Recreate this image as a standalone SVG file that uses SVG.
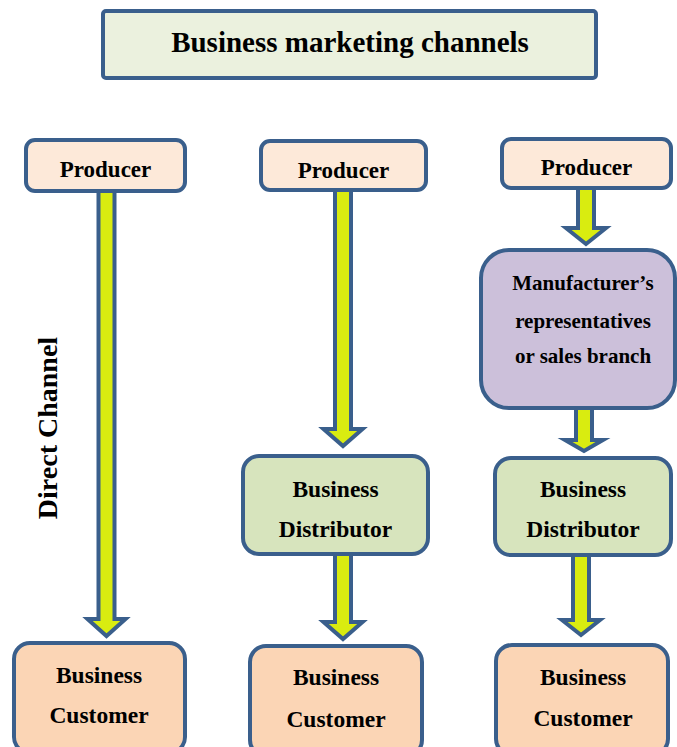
<svg xmlns="http://www.w3.org/2000/svg" width="677" height="747" viewBox="0 0 677 747">
<style>
.box{stroke:#3A5F8C;stroke-width:4}
.arr{fill:#D9EC10;stroke:#3A5F8C;stroke-width:4;stroke-linejoin:miter}
text{font-family:"Liberation Serif","Times New Roman",serif;font-weight:bold;fill:#000;text-anchor:middle}
.t{font-size:23.5px}
.p{font-size:23px}
.m{font-size:21px}
</style>
<rect width="677" height="747" fill="#fff"/>
<g id="connectors">
<polygon class="arr" points="98.5,185 114.5,185 114.5,619 125.5,619 106.5,636 87.5,619 98.5,619"/>
<polygon class="arr" points="335,185 351,185 351,429 362.5,429 343,446 323.5,429 335,429"/>
<polygon class="arr" points="335,550 351,550 351,622 362.5,622 343,639 323.5,622 335,622"/>
<polygon class="arr" points="578,185 594,185 594,228 606,228 586,244 566,228 578,228"/>
<polygon class="arr" points="576,405 592,405 592,440 603,440 584,451 565,440 576,440"/>
<polygon class="arr" points="573,550 589,550 589,620 600,620 581,635 562,620 573,620"/>
</g>
<g id="title">
<rect class="box" x="103" y="11" width="493" height="67" rx="3" fill="#EBF1DE"/>
<text x="350" y="52" style="font-size:29px">Business marketing channels</text>
</g>
<g id="direct-channel">
<text transform="translate(57,428) rotate(-90)" style="font-size:28px">Direct Channel</text>
</g>
<g id="producer1">
<rect class="box" x="26" y="140" width="159" height="51" rx="9" fill="#FDE9D9"/>
<text class="p" x="105.5" y="177">Producer</text>
</g>
<g id="producer2">
<rect class="box" x="261" y="141" width="165" height="49" rx="9" fill="#FDE9D9"/>
<text class="p" x="343.5" y="178">Producer</text>
</g>
<g id="producer3">
<rect class="box" x="502" y="139" width="169" height="49" rx="9" fill="#FDE9D9"/>
<text class="p" x="586.5" y="175">Producer</text>
</g>
<g id="manufacturer">
<rect class="box" x="481" y="250" width="194" height="158" rx="28" fill="#CCC0DA"/>
<text class="m" x="583" y="290">Manufacturer’s</text>
<text class="m" x="583" y="328">representatives</text>
<text class="m" x="583" y="363">or sales branch</text>
</g>
<g id="distributor2">
<rect class="box" x="243" y="456" width="185" height="98" rx="16" fill="#D7E4BD"/>
<text class="t" x="335.5" y="497">Business</text>
<text class="t" x="335.5" y="537">Distributor</text>
</g>
<g id="distributor3">
<rect class="box" x="495" y="458" width="176" height="97" rx="16" fill="#D7E4BD"/>
<text class="t" x="583" y="497">Business</text>
<text class="t" x="583" y="537">Distributor</text>
</g>
<g id="customer1">
<rect class="box" x="14" y="643" width="171" height="110" rx="16" fill="#FBD5B5"/>
<text class="t" x="99" y="683">Business</text>
<text class="t" x="99" y="723">Customer</text>
</g>
<g id="customer2">
<rect class="box" x="250" y="646" width="172" height="110" rx="16" fill="#FBD5B5"/>
<text class="t" x="336" y="685">Business</text>
<text class="t" x="336" y="727">Customer</text>
</g>
<g id="customer3">
<rect class="box" x="496" y="645" width="172" height="110" rx="16" fill="#FBD5B5"/>
<text class="t" x="583" y="685">Business</text>
<text class="t" x="583" y="726">Customer</text>
</g>
</svg>
